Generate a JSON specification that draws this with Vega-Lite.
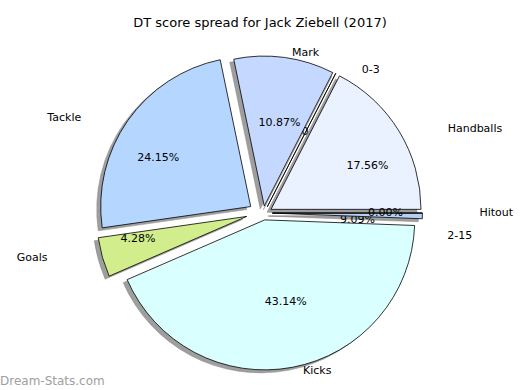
{
  "$schema": "https://vega.github.io/schema/vega-lite/v6.json",
  "background": "white",
  "padding": {"top": 17, "left": 0, "right": 0, "bottom": 0},
  "title": {"text": "Dream-Stats.com", "orient": "bottom", "anchor": "start", "fontSize": 12, "fontWeight": "normal", "color": "#a0a0a0", "font": "DejaVu Sans", "offset": 0},
  "vconcat": [
    {
      "width": 520,
      "height": 318,
      "title": {"text": "DT score spread for Jack Ziebell (2017)", "fontSize": 13, "fontWeight": "normal", "font": "DejaVu Sans", "color": "#000000", "offset": 17, "anchor": "middle"},
      "data": {
        "values": [
          {"category": "Handballs", "value": 17.56, "pct": 0.1756, "ord": 1},
          {"category": "0-3", "value": 0, "pct": 0, "ord": 2},
          {"category": "Mark", "value": 10.87, "pct": 0.1087, "ord": 3},
          {"category": "Tackle", "value": 24.15, "pct": 0.2415, "ord": 4},
          {"category": "Goals", "value": 4.28, "pct": 0.0428, "ord": 5},
          {"category": "Kicks", "value": 43.14, "pct": 0.4314, "ord": 6},
          {"category": "2-15", "value": 0.6, "pct": 0.0909, "ord": 7},
          {"category": "Hitout", "value": 0, "pct": 0, "ord": 8}
        ]
      },
      "transform": [
        {"joinaggregate": [{"op": "sum", "field": "value", "as": "total"}]},
        {"window": [{"op": "sum", "field": "value", "as": "cum"}], "sort": [{"field": "ord"}], "frame": [null, 0]}
      ],
      "encoding": {
        "theta": {"field": "value", "type": "quantitative", "stack": true, "scale": {"range": [1.5707963, -4.712389]}},
        "order": {"field": "ord", "type": "quantitative"}
      },
      "layer": [
        {
          "mark": {"type": "arc", "outerRadius": 150, "fill": "#9e9e9e", "stroke": "#8a8a8a", "strokeWidth": 0.5,
            "xOffset": {"expr": "-1+(datum.category=='Tackle'?0.08:(datum.category=='Goals'?0.09:0.05))*188*cos(2*PI*(datum.cum-datum.value/2)/datum.total)"},
            "yOffset": {"expr": "3-(datum.category=='Tackle'?0.08:(datum.category=='Goals'?0.09:0.05))*140*sin(2*PI*(datum.cum-datum.value/2)/datum.total)"}}
        },
        {
          "mark": {"type": "text", "radius": 93, "fontSize": 11, "font": "DejaVu Sans", "color": "#000000", "align": "center", "baseline": "middle",
            "dx": {"expr": "datum.category=='2-15'?-28:0"},
            "dy": {"expr": "datum.category=='2-15'?5:0"},
            "xOffset": {"expr": "3+(113-93+(datum.category=='Tackle'?0.08:(datum.category=='Goals'?0.09:0.05))*188)*cos(2*PI*(datum.cum-datum.value/2)/datum.total)"},
            "yOffset": {"expr": "-(84-93+(datum.category=='Tackle'?0.08:(datum.category=='Goals'?0.09:0.05))*140)*sin(2*PI*(datum.cum-datum.value/2)/datum.total)"}},
          "encoding": {
            "text": {"field": "pct", "type": "quantitative", "format": ".2%"},
            "opacity": {"condition": {"test": "datum.category=='0-3' || datum.category=='2-15'", "value": 1}, "value": 0}
          }
        },
        {
          "mark": {"type": "arc", "outerRadius": 150, "stroke": "#000000", "strokeWidth": 0.8,
            "xOffset": {"expr": "3+(datum.category=='Tackle'?0.08:(datum.category=='Goals'?0.09:0.05))*188*cos(2*PI*(datum.cum-datum.value/2)/datum.total)"},
            "yOffset": {"expr": "-(datum.category=='Tackle'?0.08:(datum.category=='Goals'?0.09:0.05))*140*sin(2*PI*(datum.cum-datum.value/2)/datum.total)"}},
          "encoding": {
            "color": {"field": "category", "type": "nominal", "legend": null,
              "scale": {"domain": ["Handballs", "0-3", "Mark", "Tackle", "Goals", "Kicks", "2-15", "Hitout"],
                        "range": ["#eaf1ff", "#ffffff", "#c5d8ff", "#b5d6ff", "#d1ed8c", "#d9ffff", "#b5d0f5", "#c0c0c0"]}}
          }
        },
        {
          "mark": {"type": "text", "radius": 93, "fontSize": 11, "font": "DejaVu Sans", "color": "#000000", "align": "center", "baseline": "middle",
            "xOffset": {"expr": "3+(113-93+(datum.category=='Tackle'?0.08:(datum.category=='Goals'?0.09:0.05))*188)*cos(2*PI*(datum.cum-datum.value/2)/datum.total)"},
            "yOffset": {"expr": "-(84-93+(datum.category=='Tackle'?0.08:(datum.category=='Goals'?0.09:0.05))*140)*sin(2*PI*(datum.cum-datum.value/2)/datum.total)"}},
          "encoding": {
            "text": {"field": "pct", "type": "quantitative", "format": ".2%"},
            "opacity": {"condition": {"test": "datum.category=='0-3' || datum.category=='2-15'", "value": 0}, "value": 1}
          }
        },
        {
          "mark": {"type": "text", "radius": 170, "fontSize": 11, "font": "DejaVu Sans", "color": "#000000", "baseline": "middle",
            "align": {"expr": "cos(2*PI*(datum.cum-datum.value/2)/datum.total)>0?'left':'right'"},
            "dx": {"expr": "datum.category=='2-15'?-32:0"},
            "dy": {"expr": "datum.category=='2-15'?20:0"},
            "xOffset": {"expr": "3+(207-170+(datum.category=='Tackle'?0.08:(datum.category=='Goals'?0.09:0.05))*188)*cos(2*PI*(datum.cum-datum.value/2)/datum.total)"},
            "yOffset": {"expr": "-(154-170+(datum.category=='Tackle'?0.08:(datum.category=='Goals'?0.09:0.05))*140)*sin(2*PI*(datum.cum-datum.value/2)/datum.total)"}},
          "encoding": {
            "text": {"field": "category", "type": "nominal"}
          }
        }
      ]
    }
  ],
  "config": {"view": {"stroke": null}}
}
